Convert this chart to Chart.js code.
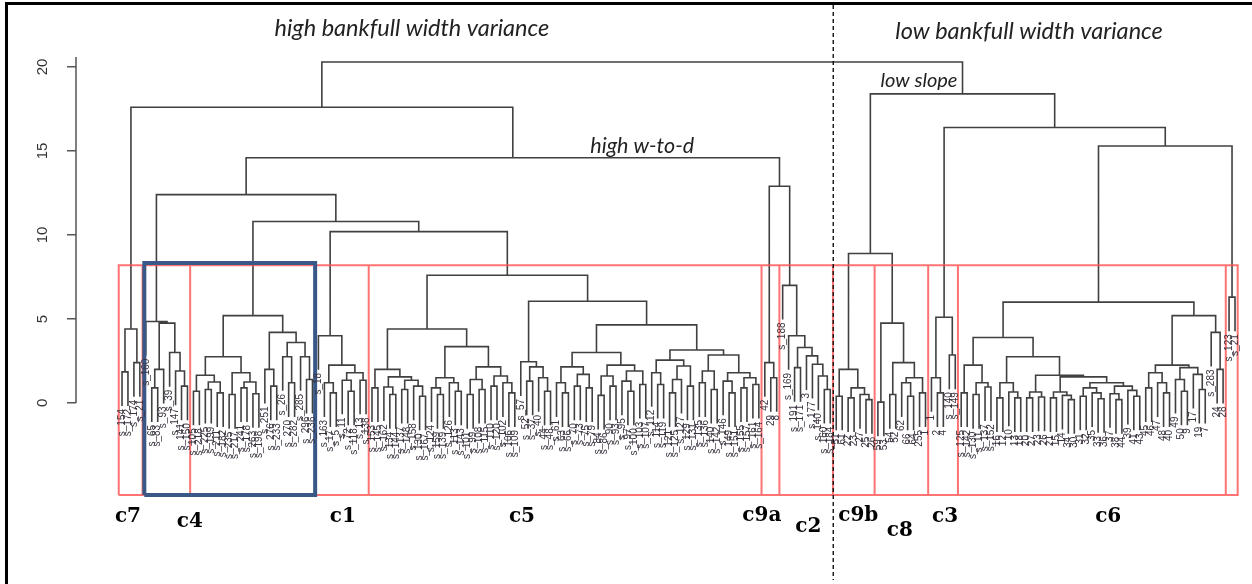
<!DOCTYPE html>
<html>
<head>
<meta charset="utf-8">
<script src="https://cdn.jsdelivr.net/npm/chart.js@4"></script>
<style>
html, body { margin: 0; padding: 0; background: #fff; }
#wrap { position: relative; width: 1252px; height: 584px; overflow: hidden; }
#frame { position: absolute; left: 5px; top: 2px; right: 0; bottom: -10px; border-top: 3px solid #000; border-left: 3px solid #000; pointer-events: none; }
canvas { position: absolute; left: 0; top: 0; }
</style>
</head>
<body>
<div id="wrap"><canvas id="dendro" width="1252" height="584"></canvas><div id="frame"></div></div>
<script>
// merge heights; a node is [height, left, right], a leaf is its label
const c7 = [4.4, [1.85, 's_154', 's_172'], [2.4, 's_174', 's_21']];
const c4a = [4.85, 's_160', [4.75, [2.0, [0.9, 's_65', 's_83'], 's_93'], [3.0, 's_39', [1.9, 's_147', [1.0, 's_141', 's_150']]]]];
const c4 = [5.2,
  [2.75,
    [1.65, [0.7, 's_105', 's_218'], [1.25, [0.8, 's_225', 's_199'], [0.6, 's_211', 's_182']]],
    [1.8, [0.5, 's_235', 's_217'], [1.25, [0.9, 's_241', 's_178'], [0.55, 's_263', 's_198']]]],
  [4.2,
    [2.0, 's_251', [1.0, 's_276', 's_233']],
    [3.6, [2.75, 's_26', [1.2, 's_270', 's_282']], [2.75, 's_285', [1.4, 's_296', 's_236']]]]];
const c1 = [4.0, 's_18', [2.25, [1.2, 's_163', [0.6, 's_17', 's_5']], [1.8, [1.35, 's_11', [0.7, 's_72', 's_118']], [1.35, 's_13', 's_138']]]];

const c5LL = [2.0, [0.9, 's_153', 's_145'], [1.55, [0.95, 's_162', [0.5, 's_134', 's_144']], [1.35, [0.8, 's_137', 's_148'], [1.0, 's_158', [0.4, 's_130', 's_167']]]]];
const c5LRa = [1.5, [0.9, 's_124', [0.5, 's_159', 's_139']], [1.2, 's_126', [0.7, 's_113', 's_143']]];
const c5LRb = [2.15, [1.4, [0.5, 's_101', 's_99'], [0.8, 's_108', 's_115']], [1.6, [1.0, 's_110', 's_120'], [1.2, 's_102', [0.6, 's_106', 's_109']]]];
const c5R1 = [2.45, 's_57', [2.15, [1.3, 's_52', 's_37'], [1.5, 's_40', [0.7, 's_44', 's_48']]]];
const c5Ra = [2.15, [1.2, 's_61', [0.6, 's_63', 's_66']], [1.7, [1.0, 's_70', 's_73'], [0.9, 's_75', 's_79']]];
const c5Rb = [2.25, [1.6, [0.45, 's_84', 's_86'], [1.0, 's_90', 's_93']], [1.9, [1.3, 's_95', [0.7, 's_97', 's_100']], [1.1, 's_103', 's_107']]];
const c5Rc = [2.55, [1.8, 's_112', [1.1, 's_114', 's_119']], [2.2, [1.4, [0.6, 's_121', 's_125'], 's_127'], [1.0, 's_129', 's_131']]];
const c5Rd = [2.85, [1.9, [1.2, 's_135', 's_136'], [0.8, 's_140', 's_142']], [1.8, [1.3, 's_146', [0.6, 's_149', 's_151']], [1.5, [0.9, 's_155', 's_157'], [1.1, 's_161', 's_164']]]];
const c5 = [7.6, [4.4, c5LL, [3.35, c5LRa, c5LRb]], [6.05, c5R1, [4.65, [3.0, c5Ra, c5Rb], [3.15, c5Rc, c5Rd]]]];

const c9a = [2.4, '42', [1.5, '29', '8']];
const c2 = [7.0, 's_188', [4.0, 's_169', [3.3, [2.1, 's_191', 's_171'], [2.8, '3', [2.3, 's_177', [1.6, 's_140', [0.8, 's_160', 's_184']]]]]]];
const c9b = [2.0, [0.4, '51', '61'], [0.9, [0.3, '22', '23'], [0.5, '27', [0.2, '25', '26']]]];
const c8 = [4.75, [0.05, '59', '53'], [2.4, [0.5, '54', '52'], [1.5, [1.2, '62', [0.4, '66', '64']], [0.6, '255', '1']]]];
const c3 = [5.1, [1.5, '1', [0.6, '2', '4']], [2.85, 's_140', 's_149']];

const c6L1 = [2.25, [0.6, 's_125', 's_142'], [1.2, [0.5, 's_130', 's_11'], [0.95, 's_137', 's_152']]];
const c6L21 = [1.2, [0.3, '16', '12'], [0.65, '10', [0.3, '13', '18']]];
const c6L221 = [0.65, [0.3, '20', '27'], [0.35, '23', '26']];
const c6L222a = [0.65, [0.3, '21', '15'], [0.45, '14', [0.2, '34', '30']]];
const c6L222b = [1.2, [0.9, [0.4, '31', '32'], [0.6, '35', [0.25, '33', '36']]], [1.0, [0.55, '37', [0.2, '38', '44']], [0.75, '39', [0.4, '41', '43']]]];
const c6R1 = [2.25, [1.8, [0.9, '45', '46'], [1.2, '47', [0.6, '48', '40']]], [2.1, [1.4, '49', [0.7, '50', '9']], [1.7, '17', [0.8, '19', '7']]]];
const c6R2 = [4.2, 's_283', [2.0, '24', '28']];
const c6 = [6.0, [3.9, c6L1, [2.75, c6L21, [1.65, c6L221, [1.55, c6L222a, c6L222b]]]], [5.2, c6R1, c6R2]];
const cLast = [6.3, 's_123', 's_21'];

// upper merges: root, left, ...
const upperHeights = [20.3, 17.6, 14.6, 12.4, 10.8, 10.2, 12.9, 18.4, 8.9, 16.4, 15.3];
const hh = upperHeights;
const tree = [hh[0],
  [hh[1], c7, [hh[2], [hh[3], c4a, [hh[4], c4, [hh[5], c1, c5]]], [hh[6], c9a, c2]]],
  [hh[7], [hh[8], c9b, c8], [hh[9], c3, [hh[10], c6, cLast]]]];

const boxClusters = [c7, c4a, c4, c1, c5, c9a, c2, c9b, c8, c3, c6, cLast];
const yTicks = [0, 5, 10, 15, 20];

const clusterNames = ['c7', 'c4', 'c1', 'c5', 'c9a', 'c2', 'c9b', 'c8', 'c3', 'c6'];
const clusterNameX = [1.0, 11.4, 37.1, 67.2, 107.5, 115.3, 123.7, 130.7, 138.3, 165.7];
const clusterNameY = [-6.8, -7.1, -6.8, -6.8, -6.7, -7.4, -6.7, -7.6, -6.8, -6.8];

const noteTexts = ['high bankfull width variance', 'low bankfull width variance', 'low slope', 'high w-to-d'];
const noteX = [48.7, 152.4, 133.9, 87.4];
const noteY = [22.3, 22.1, 19.2, 15.3];
const noteSize = [23.5, 23.5, 20, 21.5];

const HANG = 2.03;

// lay the tree out: leaves get 0,1,2..., nodes sit midway between children
let nextLeaf = 0;
const segs = [], leaves = [], ranges = new Map();
function layout(node, parentH) {
  if (typeof node === 'string') {
    const p = {x: nextLeaf++, y: parentH - HANG};
    leaves.push({x: p.x, y: p.y, label: node});
    return p;
  }
  const start = nextLeaf;
  const [h, a, b] = node;
  const L = layout(a, h), R = layout(b, h);
  segs.push({x: L.x, y: L.y}, {x: L.x, y: h}, {x: R.x, y: h}, {x: R.x, y: R.y}, {x: null, y: null});
  ranges.set(node, [start, nextLeaf - 1]);
  return {x: (L.x + R.x) / 2, y: h};
}
layout(tree, tree[0]);

const boxTop = 8.2, boxBottom = -5.48;
const redBoxes = [];
boxClusters.forEach(c => {
  const [s, e] = ranges.get(c);
  const x0 = s - 0.55, x1 = e + 0.45;
  redBoxes.push({x: x0, y: boxBottom}, {x: x0, y: boxTop}, {x: x1, y: boxTop}, {x: x1, y: boxBottom}, {x: x0, y: boxBottom}, {x: null, y: null});
});
const b0 = ranges.get(c4a)[0] - 0.25, b1 = ranges.get(c4)[1] + 0.45;
const blueBox = [{x: b0, y: boxBottom}, {x: b0, y: 8.33}, {x: b1, y: 8.33}, {x: b1, y: boxBottom}, {x: b0, y: boxBottom}];
const splitX = ranges.get(c2)[1] + 0.5;

const xMin = -7.73, xMax = nextLeaf - 1 + 1.68;
const yMin = -10.54, yMax = 23.69;

const overlay = {
  id: 'overlay',
  afterDatasetsDraw(chart) {
    const {ctx, scales: {x, y}} = chart;
    ctx.save();
    ctx.strokeStyle = '#555'; ctx.lineWidth = 1.5;
    ctx.beginPath();
    ctx.moveTo(x.left, y.getPixelForValue(0));
    ctx.lineTo(x.left, y.getPixelForValue(20.6));
    ctx.stroke();

    ctx.font = '10px "Liberation Sans"';
    ctx.fillStyle = '#3b3340';
    ctx.textAlign = 'right'; ctx.textBaseline = 'middle';
    leaves.forEach(l => {
      ctx.save();
      ctx.translate(x.getPixelForValue(l.x), y.getPixelForValue(l.y) + 3);
      ctx.rotate(-Math.PI / 2);
      ctx.fillText(l.label, 0, 0);
      ctx.restore();
    });

    ctx.textAlign = 'center';
    ctx.fillStyle = '#222';
    noteTexts.forEach((t, i) => {
      ctx.font = 'italic ' + noteSize[i] + 'px Lato';
      ctx.fillText(t, x.getPixelForValue(noteX[i]), y.getPixelForValue(noteY[i]));
    });

    ctx.fillStyle = '#000';
    ctx.font = 'bold 20px "DejaVu Serif"';
    clusterNames.forEach((t, i) => {
      ctx.fillText(t, x.getPixelForValue(clusterNameX[i]), y.getPixelForValue(clusterNameY[i]));
    });
    ctx.restore();
  }
};

new Chart(document.getElementById('dendro'), {
  type: 'scatter',
  data: {
    datasets: [
      { label: 'split', data: [{x: splitX, y: yMax}, {x: splitX, y: yMin}], showLine: true, borderColor: '#111', borderWidth: 1.4, borderDash: [4, 3], pointRadius: 0, order: 0, clip: 10 },
      { label: 'c4', data: blueBox, showLine: true, borderColor: '#395887', borderWidth: 4, pointRadius: 0, order: 1 },
      { label: 'clusters', data: redBoxes, showLine: true, spanGaps: false, borderColor: 'rgba(255,80,80,0.8)', borderWidth: 2, pointRadius: 0, order: 2 },
      { label: 'tree', data: segs, showLine: true, spanGaps: false, borderColor: '#404040', borderWidth: 1.6, pointRadius: 0, order: 3 }
    ]
  },
  options: {
    responsive: false,
    animation: false,
    events: [],
    layout: { padding: { left: 7, right: 7, top: 5, bottom: 4 } },
    plugins: { legend: { display: false }, tooltip: { enabled: false } },
    scales: {
      x: { type: 'linear', display: false, min: xMin, max: xMax },
      y: {
        type: 'linear', min: yMin, max: yMax,
        afterFit: s => { s.width = 69; s.paddingTop = 0; s.paddingBottom = 0; },
        afterBuildTicks: s => { s.ticks = yTicks.map(v => ({value: v})); },
        border: { display: false },
        grid: { drawOnChartArea: false, drawTicks: true, tickLength: 9, color: '#555', lineWidth: 1.5 },
        ticks: { minRotation: 90, maxRotation: 90, crossAlign: 'center', padding: 16, color: '#333', font: { family: 'Liberation Sans', size: 15 } }
      }
    }
  },
  plugins: [overlay]
});
</script>
</body>
</html>
